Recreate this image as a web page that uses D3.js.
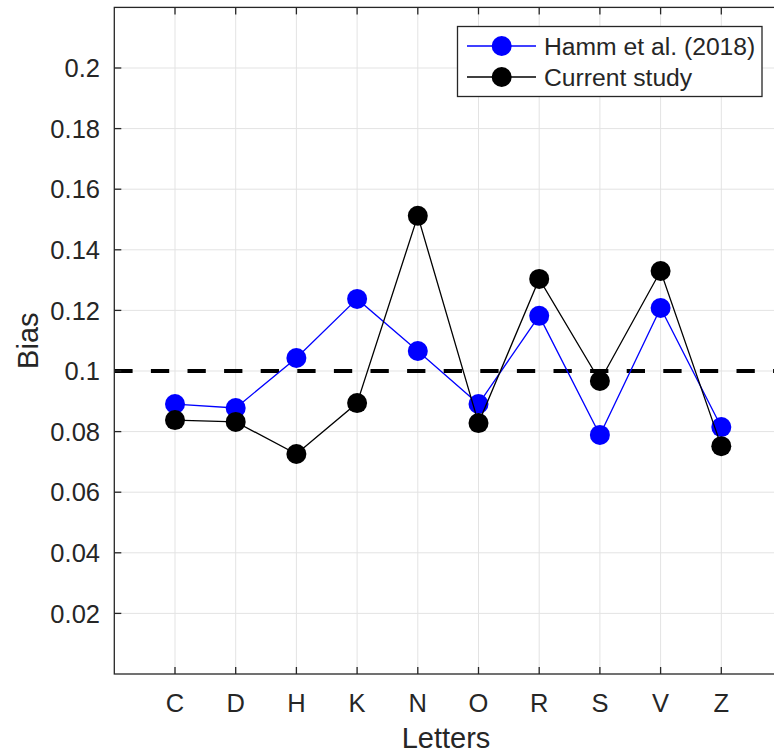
<!DOCTYPE html>
<html>
<head>
<meta charset="utf-8">
<script src="https://cdn.jsdelivr.net/npm/d3@7"></script>
<style>
  body { margin: 0; background: #fff; }
  text { font-family: "Liberation Sans", Arial, Helvetica, sans-serif; fill: #262626; }
</style>
</head>
<body>
<div id="chart"></div>
<script>
// data
const letters = ["C", "D", "H", "K", "N", "O", "R", "S", "V", "Z"]
const hamm = [0.0891, 0.0878, 0.1043, 0.1238, 0.1066, 0.0891, 0.1182, 0.0789, 0.1208, 0.0815]
const current = [0.0838, 0.0832, 0.0726, 0.0894, 0.1512, 0.0828, 0.1304, 0.0967, 0.1330, 0.0752]
const yTicks = [0.02, 0.04, 0.06, 0.08, 0.1, 0.12, 0.14, 0.16, 0.18, 0.2]
const refLevel = 0.1
const seriesNames = ["Hamm et al. (2018)", "Current study"]

const W = 774, H = 753

const svg = d3.select("#chart").append("svg")
  .attr("width", W).attr("height", H)

// x: letters at positions 1..10, axis spans 0..11 (right edge falls off the picture)
const x = d3.scaleLinear().domain([0, letters.length + 1]).range([114.3, 782])
const y = d3.scaleLinear().domain([0, 0.22]).range([674, 7.4])

const axisColor = "#262626"
const gridColor = "#e3e3e3"

// grid
svg.append("g").selectAll("line")
  .data(letters)
  .join("line")
  .attr("x1", (d, i) => x(i + 1)).attr("x2", (d, i) => x(i + 1))
  .attr("y1", y(0)).attr("y2", y(0.22))
  .attr("stroke", gridColor).attr("stroke-width", 1)

svg.append("g").selectAll("line")
  .data(yTicks)
  .join("line")
  .attr("x1", x(0)).attr("x2", x(11))
  .attr("y1", d => y(d)).attr("y2", d => y(d))
  .attr("stroke", gridColor).attr("stroke-width", 1)

// reference line
svg.append("line")
  .attr("x1", x(0)).attr("x2", x(11))
  .attr("y1", y(refLevel)).attr("y2", y(refLevel))
  .attr("stroke", "#000").attr("stroke-width", 4)
  .attr("stroke-dasharray", "18.3,18.3")

// axes box with inward ticks
const frame = svg.append("g")
frame.append("rect")
  .attr("x", x(0)).attr("y", y(0.22))
  .attr("width", x(11) - x(0)).attr("height", y(0) - y(0.22))
  .attr("fill", "none").attr("stroke", axisColor).attr("stroke-width", 1.3)

const tl = 7
letters.forEach((d, i) => {
  frame.append("line")
    .attr("x1", x(i + 1)).attr("x2", x(i + 1))
    .attr("y1", y(0)).attr("y2", y(0) - tl)
    .attr("stroke", axisColor).attr("stroke-width", 1.3)
  frame.append("line")
    .attr("x1", x(i + 1)).attr("x2", x(i + 1))
    .attr("y1", y(0.22)).attr("y2", y(0.22) + tl)
    .attr("stroke", axisColor).attr("stroke-width", 1.3)
})
yTicks.forEach(d => {
  frame.append("line")
    .attr("x1", x(0)).attr("x2", x(0) + tl)
    .attr("y1", y(d)).attr("y2", y(d))
    .attr("stroke", axisColor).attr("stroke-width", 1.3)
  frame.append("line")
    .attr("x1", x(11)).attr("x2", x(11) - tl)
    .attr("y1", y(d)).attr("y2", y(d))
    .attr("stroke", axisColor).attr("stroke-width", 1.3)
})

// tick labels
svg.append("g").selectAll("text")
  .data(yTicks)
  .join("text")
  .attr("x", 100)
  .attr("y", d => y(d))
  .attr("dy", "0.36em")
  .attr("text-anchor", "end")
  .style("font-size", "25.5px")
  .text(d => d3.format("")(+d.toFixed(2)))

svg.append("g").selectAll("text")
  .data(letters)
  .join("text")
  .attr("x", (d, i) => x(i + 1))
  .attr("y", 711.5)
  .attr("text-anchor", "middle")
  .style("font-size", "25.5px")
  .text(d => d)

// axis labels
svg.append("text")
  .attr("x", 446)
  .attr("y", 748)
  .attr("text-anchor", "middle")
  .style("font-size", "29px")
  .text("Letters")

svg.append("text")
  .attr("transform", "translate(37.5," + ((y(0) + y(0.22)) / 2) + ") rotate(-90)")
  .attr("text-anchor", "middle")
  .style("font-size", "29px")
  .text("Bias")

// series
const line = d3.line()
  .x((d, i) => x(i + 1))
  .y(d => y(d))

const series = [
  {name: seriesNames[0], values: hamm, color: "#0000ff"},
  {name: seriesNames[1], values: current, color: "#000000"}
]

series.forEach(s => {
  svg.append("path")
    .datum(s.values)
    .attr("d", line)
    .attr("fill", "none")
    .attr("stroke", s.color)
    .attr("stroke-width", 1.3)
  svg.append("g").selectAll("circle")
    .data(s.values)
    .join("circle")
    .attr("cx", (d, i) => x(i + 1))
    .attr("cy", d => y(d))
    .attr("r", 10)
    .attr("fill", s.color)
})

// legend
const lg = svg.append("g")
lg.append("rect")
  .attr("x", 457.5).attr("y", 26.5)
  .attr("width", 304.5).attr("height", 70)
  .attr("fill", "#fff").attr("stroke", axisColor).attr("stroke-width", 1.3)

series.forEach((s, i) => {
  const cy = 46 + i * 31
  lg.append("line")
    .attr("x1", 467).attr("x2", 536)
    .attr("y1", cy).attr("y2", cy)
    .attr("stroke", s.color).attr("stroke-width", 1.3)
  lg.append("circle")
    .attr("cx", 501.7).attr("cy", cy).attr("r", 10)
    .attr("fill", s.color)
  lg.append("text")
    .attr("x", 544).attr("y", cy)
    .attr("dy", "0.36em")
    .style("font-size", "24.7px")
    .text(s.name)
})
</script>
</body>
</html>
